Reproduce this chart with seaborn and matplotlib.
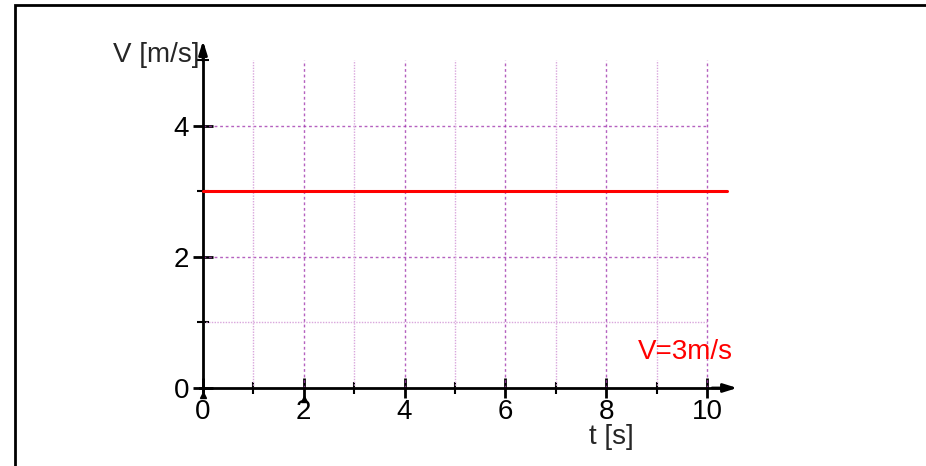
import numpy as np
import pandas as pd
import seaborn as sns
import matplotlib.pyplot as plt
from matplotlib.patches import Rectangle

# Data: constant velocity V = 3 m/s
t_values = [0, 10.4]
v_values = [3, 3]

x_major = [0, 2, 4, 6, 8, 10]
x_minor = [1, 3, 5, 7, 9]
y_major = [0, 2, 4]
y_minor = [1, 3, 5]

df = pd.DataFrame({'t': t_values, 'V': v_values})

sns.set_style("white")
plt.rcParams['font.family'] = ['Liberation Sans', 'DejaVu Sans']

fig = plt.figure(figsize=(9.26, 4.66), dpi=100)
ax = fig.add_axes([0.192, 0.1393, 0.6259, 0.8012])
ax.set_xlim(-0.5, 11)
ax.set_ylim(-0.2, 5.5)

# Grid (limited to the plot area, like the original)
grid_major = '#a33ab0'
grid_minor = '#d9a6dc'
for y in [1, 3]:
    ax.hlines(y, 0, 10, color=grid_minor, lw=1, ls=(0, (1, 1)), zorder=1)
for y in [2, 4]:
    ax.hlines(y, 0, 10, color=grid_major, lw=1, ls=(0, (2, 2)), alpha=0.8, zorder=1)
for x in x_minor:
    ax.vlines(x, 0, 5, color=grid_minor, lw=1, ls=(0, (1, 1)), zorder=1)
for x in x_major[1:]:
    ax.vlines(x, 0, 5, color=grid_major, lw=1, ls=(0, (2, 2)), alpha=0.8, zorder=1)

# The line itself
sns.lineplot(data=df, x='t', y='V', color='#ff0000', lw=2.2, ax=ax, zorder=3)

# Axes through the origin
for side in ['top', 'right']:
    ax.spines[side].set_visible(False)
ax.spines['left'].set_position(('data', 0))
ax.spines['bottom'].set_position(('data', 0))
ax.spines['left'].set_bounds(-0.05, 5.2)
ax.spines['bottom'].set_bounds(-0.05, 10.3)
for side in ['left', 'bottom']:
    ax.spines[side].set_linewidth(2)
    ax.spines[side].set_color('black')

ax.annotate('', xy=(10.6, 0), xytext=(10.1, 0),
            arrowprops=dict(arrowstyle='-|>,head_length=0.8,head_width=0.25',
                            color='black', lw=2, shrinkA=0, shrinkB=0))
ax.annotate('', xy=(0, 5.3), xytext=(0, 5.0),
            arrowprops=dict(arrowstyle='-|>,head_length=0.8,head_width=0.25',
                            color='black', lw=2, shrinkA=0, shrinkB=0))

ax.set_xticks(x_major)
ax.set_xticks(x_minor, minor=True)
ax.set_yticks(y_major)
ax.set_yticks(y_minor, minor=True)
ax.tick_params(which='both', bottom=True, left=True)
ax.tick_params(which='major', direction='inout', length=14, width=2,
               labelsize=20, colors='black')
ax.tick_params(which='minor', direction='inout', length=9, width=1.5, colors='black')
ax.tick_params(axis='x', which='major', pad=1)
ax.tick_params(axis='y', which='major', pad=3)

# Small arrow marks under the axis
ax.plot([0, 2], [-0.1, -0.17], marker='^', ls='', color='black', ms=5, clip_on=False)

ax.set_xlabel('')
ax.set_ylabel('')
ax.text(-0.06, 5.08, 'V [m/s]', ha='right', va='center', fontsize=20)
ax.text(8.1, -0.75, 't [s]', ha='center', va='center', fontsize=20, clip_on=False)
ax.text(8.63, 0.55, 'V=3m/s', color='#ff0000', ha='left', va='center', fontsize=20)

# Frame around the figure
fig.patches.append(Rectangle((15 / 926, -0.1), 1.0, (466 - 5) / 466 + 0.1,
                             transform=fig.transFigure, fill=False,
                             edgecolor='black', lw=2))

plt.savefig('out.png', dpi=100)
plt.close()
